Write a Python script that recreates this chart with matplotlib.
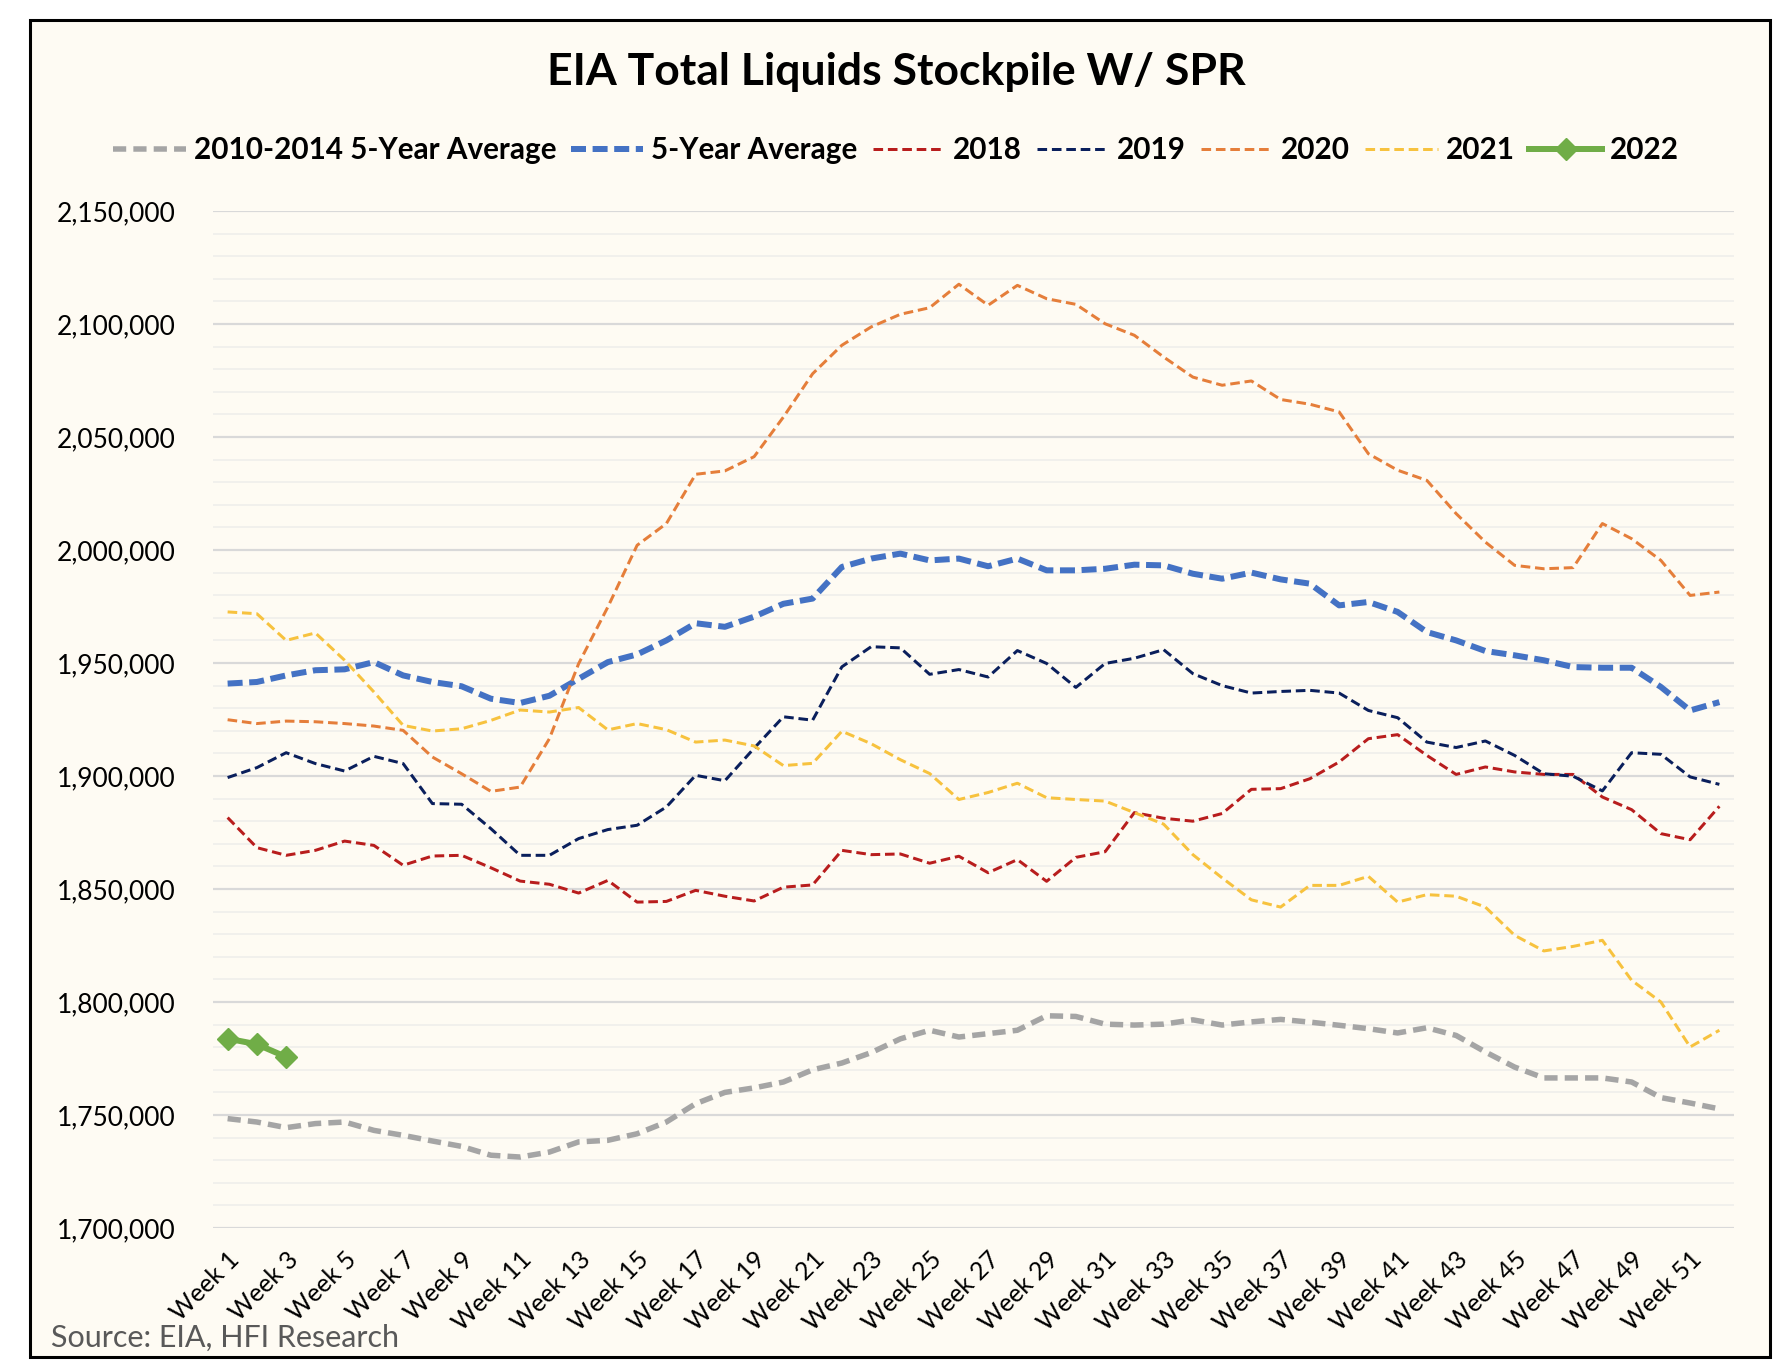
import matplotlib
matplotlib.use("Agg")
import matplotlib.pyplot as plt
from matplotlib.ticker import MultipleLocator, FuncFormatter
from matplotlib.patches import Rectangle

plt.rcParams['font.family'] = ['Lato', 'DejaVu Sans']

# ---------------- data ----------------
weeks = list(range(1, 53))
week_labels = [f"Week {w}" for w in weeks]

avg_2010_2014 = [1748400, 1746900, 1744400, 1746200, 1746900, 1743200, 1741000, 1738500, 1736100, 1732200,
                 1731400, 1733600, 1738100, 1738800, 1741700, 1746900, 1755000, 1760000, 1762000, 1764600,
                 1770000, 1773000, 1777600, 1783700, 1787500, 1784500, 1786000, 1787500, 1793900, 1793600,
                 1790200, 1789800, 1790200, 1792100, 1789800, 1791200, 1792300, 1791100, 1789700, 1788200,
                 1786300, 1788600, 1785200, 1777900, 1771200, 1766400, 1766400, 1766400, 1764600, 1757700,
                 1755300, 1752700]

avg_5yr = [1940900, 1941600, 1944500, 1946800, 1947200, 1950400, 1944500, 1941600, 1939700, 1934200,
           1932300, 1935500, 1943000, 1950400, 1953800, 1960000, 1967600, 1966000, 1970500, 1976200,
           1978500, 1992500, 1996200, 1998400, 1995400, 1996200, 1992800, 1996200, 1991000, 1991000,
           1991700, 1993500, 1993200, 1989500, 1987300, 1990000, 1987000, 1985100, 1975500, 1977000,
           1972600, 1963700, 1960000, 1955300, 1953400, 1951200, 1948200, 1947900, 1947900, 1939400,
           1929000, 1932700]

y2018 = [1881600, 1868300, 1864900, 1867100, 1871200, 1869300, 1860500, 1864600, 1864900, 1859400,
         1853500, 1852100, 1848200, 1853800, 1844200, 1844500, 1849400, 1846800, 1844700, 1850800,
         1851800, 1867100, 1865200, 1865500, 1861400, 1864500, 1857200, 1863000, 1853400, 1864000,
         1866500, 1883800, 1881300, 1880000, 1883400, 1894100, 1894400, 1898800, 1906200, 1916500,
         1918300, 1909100, 1900700, 1904000, 1901800, 1900700, 1900700, 1890700, 1885100, 1874500,
         1871800, 1886600]

y2019 = [1899300, 1903700, 1910300, 1905500, 1902200, 1908700, 1905500, 1887800, 1887500, 1876700,
         1864900, 1864900, 1872300, 1876300, 1878200, 1886300, 1900300, 1897900, 1912300, 1926200,
         1924700, 1948300, 1957200, 1956700, 1945000, 1947100, 1943800, 1955500, 1949800, 1939200,
         1949800, 1952100, 1955900, 1945300, 1940000, 1936700, 1937400, 1937900, 1936700, 1929000,
         1925800, 1915000, 1912600, 1915500, 1909100, 1901000, 1899900, 1893400, 1910300, 1909600,
         1899600, 1896300]

y2020 = [1924900, 1923200, 1924300, 1924000, 1923200, 1922100, 1920200, 1908400, 1901000, 1893200,
         1895100, 1916500, 1949700, 1974800, 2002100, 2011700, 2033500, 2035000, 2041300, 2058800,
         2078000, 2090600, 2098700, 2104300, 2107200, 2117600, 2108300, 2117100, 2111200, 2108700,
         2100100, 2095000, 2085400, 2076500, 2072900, 2074800, 2066600, 2064500, 2061100, 2042600,
         2035300, 2030800, 2016100, 2003500, 1993200, 1991700, 1992200, 2011700, 2005000, 1995400,
         1979900, 1981400]

y2021 = [1972600, 1971800, 1960000, 1963300, 1951200, 1937200, 1922400, 1919900, 1920900, 1924600,
         1929200, 1928300, 1930300, 1920400, 1923200, 1920500, 1915000, 1915900, 1913300, 1904600,
         1905600, 1919800, 1914300, 1907200, 1901100, 1889600, 1892700, 1896800, 1890400, 1889600,
         1888900, 1883800, 1878700, 1865200, 1854900, 1845200, 1842000, 1851600, 1851600, 1855600,
         1844200, 1847500, 1846800, 1842000, 1829500, 1822600, 1824600, 1827300, 1809600, 1800000,
         1780100, 1787500]

y2022 = [1783800, 1781300, 1775700]

# ---------------- figure ----------------
W, H = 1792, 1370
fig = plt.figure(figsize=(W / 100, H / 100), dpi=100)
fig.patch.set_facecolor('white')

cream = '#FEFBF3'
frame = Rectangle((30 / W, 1 - 1357 / H), 1740 / W, 1337 / H, transform=fig.transFigure,
                  facecolor=cream, edgecolor='black', linewidth=2.2, zorder=-10)
fig.add_artist(frame)

ax = fig.add_axes([213 / W, 1 - 1228 / H, (1734 - 213) / W, (1228 - 211) / H])
ax.set_zorder(1)
ax.set_facecolor(cream)
for s in ax.spines.values():
    s.set_visible(False)

px = 0.72  # points per pixel at dpi 100

def dashed(y, color, lw_px, on, off, label, z):
    ax.plot(weeks[:len(y)], y, color=color, lw=lw_px * px, linestyle=(0, (on, off)),
            label=label, zorder=z, dash_capstyle='butt', solid_joinstyle='round')

dashed(avg_2010_2014, '#A5A5A5', 5.5, 2.4, 1.3, '2010-2014 5-Year Average', 3)
dashed(avg_5yr, '#4472C4', 6, 2.5, 1.1, '5-Year Average', 4)
dashed(y2018, '#B81D1D', 3, 3.2, 1.6, '2018', 5)
dashed(y2019, '#0A1F5C', 3, 3.2, 1.6, '2019', 5)
dashed(y2020, '#E57E3A', 3, 3.2, 1.6, '2020', 5)
dashed(y2021, '#F7C23E', 3, 3.2, 1.6, '2021', 5)
ax.plot(weeks[:len(y2022)], y2022, color='#70AD47', lw=6 * px, marker='D', markersize=11,
        label='2022', zorder=6)

ax.set_xlim(0.5, 52.5)
ax.set_ylim(1700000, 2150000)
ax.yaxis.set_major_locator(MultipleLocator(50000))
ax.yaxis.set_minor_locator(MultipleLocator(10000))
ax.yaxis.set_major_formatter(FuncFormatter(lambda v, p: f"{int(round(v)):,}"))
ax.grid(which='major', axis='y', color='#D9D9D9', lw=2.2 * px, zorder=1)
ax.grid(which='minor', axis='y', color='#F1F0EC', lw=2.0 * px, zorder=1)
ax.set_axisbelow(True)

ax.set_xticks(weeks[::2])
ax.set_xticklabels(week_labels[::2], rotation=45, ha='right', va='top',
                   rotation_mode='anchor', fontsize=18)
ax.tick_params(axis='both', which='both', length=0)
ax.tick_params(axis='x', pad=14)
ax.tick_params(axis='y', labelsize=19, pad=27)

fig.text(0.5, 1 - 72 / H, 'EIA Total Liquids Stockpile W/ SPR', ha='center', va='center',
         fontsize=32, fontweight='bold')

leg = fig.legend(loc='center', bbox_to_anchor=(0.5, 1 - 150 / H), ncol=7, frameon=False,
                 prop={'weight': 'bold', 'size': 21.3}, handlelength=2.45, handletextpad=0.27,
                 columnspacing=0.5)

fig.text(51 / W, 1 - 1338 / H, 'Source: EIA, HFI Research', ha='left', va='center',
         fontsize=22, color='#595959')

fig.savefig('out.png', dpi=100, facecolor='white')
